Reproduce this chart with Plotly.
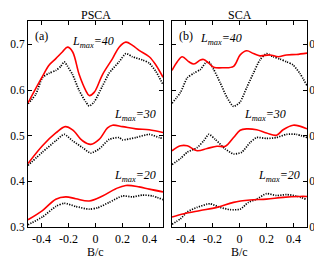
import plotly.graph_objects as go

# ---------------- data ----------------
# Panel (a) PSCA
a40_red_x = [-0.5, -0.393, -0.343, -0.294, -0.244, -0.207, -0.17, -0.121, -0.072, -0.047, -0.01, 0.052, 0.126, 0.175, 0.225, 0.274, 0.323, 0.398, 0.447, 0.5]
a40_red_y = [0.572, 0.630, 0.655, 0.669, 0.684, 0.694, 0.684, 0.634, 0.599, 0.588, 0.595, 0.634, 0.669, 0.694, 0.705, 0.698, 0.687, 0.673, 0.655, 0.628]
a40_blk_x = [-0.5, -0.442, -0.393, -0.343, -0.294, -0.257, -0.232, -0.207, -0.17, -0.121, -0.072, -0.047, -0.01, 0.052, 0.101, 0.175, 0.225, 0.274, 0.348, 0.398, 0.447, 0.5]
a40_blk_y = [0.570, 0.591, 0.627, 0.637, 0.643, 0.652, 0.662, 0.652, 0.634, 0.599, 0.574, 0.565, 0.574, 0.609, 0.637, 0.662, 0.680, 0.673, 0.666, 0.659, 0.641, 0.612]

a30_red_x = [-0.5, -0.393, -0.294, -0.224, -0.17, -0.096, -0.035, 0.027, 0.089, 0.126, 0.2, 0.299, 0.398, 0.5]
a30_red_y = [0.439, 0.478, 0.506, 0.520, 0.513, 0.489, 0.481, 0.492, 0.517, 0.523, 0.520, 0.515, 0.513, 0.507]
a30_blk_x = [-0.5, -0.393, -0.294, -0.232, -0.17, -0.096, -0.035, 0.027, 0.101, 0.175, 0.2, 0.299, 0.398, 0.472, 0.5]
a30_blk_y = [0.435, 0.464, 0.489, 0.503, 0.489, 0.474, 0.462, 0.471, 0.492, 0.496, 0.491, 0.496, 0.503, 0.496, 0.494]

a20_red_x = [-0.5, -0.393, -0.294, -0.22, -0.146, -0.047, 0.052, 0.151, 0.225, 0.323, 0.398, 0.5]
a20_red_y = [0.316, 0.336, 0.361, 0.366, 0.362, 0.357, 0.368, 0.384, 0.391, 0.388, 0.383, 0.377]
a20_blk_x = [-0.5, -0.393, -0.294, -0.232, -0.146, -0.047, 0.015, 0.101, 0.2, 0.274, 0.348, 0.422, 0.5]
a20_blk_y = [0.305, 0.322, 0.345, 0.352, 0.345, 0.339, 0.342, 0.354, 0.368, 0.366, 0.370, 0.368, 0.360]

# Panel (b) SCA
b40_red_x = [-0.5, -0.461, -0.424, -0.375, -0.338, -0.29, -0.265, -0.228, -0.191, -0.118, -0.044, 0.005, 0.054, 0.103, 0.151, 0.225, 0.287, 0.348, 0.421, 0.5]
b40_red_y = [0.643, 0.662, 0.673, 0.662, 0.657, 0.666, 0.667, 0.659, 0.650, 0.649, 0.652, 0.677, 0.686, 0.680, 0.675, 0.677, 0.673, 0.677, 0.678, 0.681]
b40_blk_x = [-0.5, -0.437, -0.387, -0.338, -0.29, -0.253, -0.228, -0.191, -0.143, -0.093, -0.044, 0.005, 0.054, 0.103, 0.151, 0.2, 0.25, 0.299, 0.348, 0.397, 0.446, 0.5]
b40_blk_y = [0.571, 0.595, 0.627, 0.637, 0.645, 0.659, 0.662, 0.645, 0.616, 0.584, 0.564, 0.574, 0.606, 0.637, 0.666, 0.680, 0.673, 0.668, 0.662, 0.655, 0.637, 0.610]

b30_red_x = [-0.5, -0.437, -0.387, -0.314, -0.24, -0.167, -0.105, -0.044, 0.005, 0.054, 0.127, 0.2, 0.274, 0.323, 0.397, 0.446, 0.5]
b30_red_y = [0.467, 0.478, 0.478, 0.467, 0.472, 0.477, 0.477, 0.496, 0.512, 0.515, 0.513, 0.506, 0.501, 0.513, 0.523, 0.521, 0.515]
b30_blk_x = [-0.5, -0.437, -0.387, -0.314, -0.265, -0.228, -0.179, -0.106, -0.044, 0.017, 0.078, 0.127, 0.2, 0.274, 0.348, 0.421, 0.5]
b30_blk_y = [0.437, 0.450, 0.464, 0.474, 0.489, 0.503, 0.492, 0.471, 0.460, 0.464, 0.485, 0.496, 0.494, 0.496, 0.503, 0.503, 0.496]

b20_red_x = [-0.5, -0.412, -0.29, -0.167, -0.044, 0.078, 0.2, 0.323, 0.446, 0.5]
b20_red_y = [0.322, 0.329, 0.336, 0.343, 0.354, 0.359, 0.361, 0.365, 0.367, 0.367]
b20_blk_x = [-0.5, -0.437, -0.387, -0.314, -0.24, -0.216, -0.143, -0.069, 0.005, 0.066, 0.127, 0.2, 0.274, 0.348, 0.421, 0.5]
b20_blk_y = [0.306, 0.318, 0.333, 0.343, 0.350, 0.351, 0.343, 0.338, 0.339, 0.354, 0.361, 0.373, 0.369, 0.371, 0.368, 0.360]

panel_titles = ["PSCA", "SCA"]
panel_tags = ["(a)", "(b)"]
lmax_labels = ["40", "30", "20"]
x_ticks = [-0.4, -0.2, 0, 0.2, 0.4]
x_ticklabels = ["-0.4", "-0.2", "0", "0.2", "0.4"]
y_ticks = [0.3, 0.4, 0.5, 0.6, 0.7]
y_ticklabels = ["0.3", "0.4", "0.5", "0.6", "0.7"]

# ---------------- figure ----------------
RED = "#ff0000"
FONT = "Liberation Serif"
fig = go.Figure()

def add_pair(xr, yr, xb, yb, xa, ya):
    fig.add_trace(go.Scatter(x=xb, y=yb, mode="lines", xaxis=xa, yaxis=ya,
                             line=dict(color="black", width=1.7, dash="1.2px,1.3px", shape="spline", smoothing=0.6),
                             showlegend=False, hoverinfo="skip"))
    fig.add_trace(go.Scatter(x=xr, y=yr, mode="lines", xaxis=xa, yaxis=ya,
                             line=dict(color=RED, width=1.6, shape="spline", smoothing=1.0),
                             showlegend=False, hoverinfo="skip"))

add_pair(a40_red_x, a40_red_y, a40_blk_x, a40_blk_y, "x", "y")
add_pair(a30_red_x, a30_red_y, a30_blk_x, a30_blk_y, "x", "y")
add_pair(a20_red_x, a20_red_y, a20_blk_x, a20_blk_y, "x", "y")
add_pair(b40_red_x, b40_red_y, b40_blk_x, b40_blk_y, "x2", "y2")
add_pair(b30_red_x, b30_red_y, b30_blk_x, b30_blk_y, "x2", "y2")
add_pair(b20_red_x, b20_red_y, b20_blk_x, b20_blk_y, "x2", "y2")

W, H = 322, 256
ydom = [1 - 224.5 / H, 1 - 13 / H]
xdom1 = [20 / W, 155 / W]
xdom2 = [164 / W, 299 / W]

axis_common = dict(showline=True, linecolor="black", linewidth=1, mirror="ticks",
                   ticks="inside", ticklen=4, tickcolor="black", showgrid=False,
                   zeroline=False)
xfont = dict(family=FONT, size=12, color="black")
yfont = dict(family=FONT, size=11.5, color="black")

fig.update_layout(
    width=W, height=H, margin=dict(l=0, r=0, t=0, b=0),
    paper_bgcolor="white", plot_bgcolor="white",
    font=dict(family=FONT, size=12, color="black"),
    xaxis=dict(domain=xdom1, range=[-0.5, 0.5], tickvals=x_ticks, ticktext=x_ticklabels,
               anchor="y", tickfont=xfont, **axis_common),
    yaxis=dict(domain=ydom, range=[0.2995, 0.752], tickvals=y_ticks, ticktext=y_ticklabels,
               anchor="x", tickfont=yfont, **axis_common),
    xaxis2=dict(domain=xdom2, range=[-0.5, 0.5], tickvals=x_ticks, ticktext=x_ticklabels,
                anchor="y2", tickfont=xfont, **axis_common),
    yaxis2=dict(domain=ydom, range=[0.2995, 0.752], tickvals=y_ticks, ticktext=y_ticklabels,
                anchor="x2", side="right", tickfont=yfont, ticklabelstandoff=-1, **axis_common),
)

ann = []
for t, dom in zip(panel_titles, [xdom1, xdom2]):
    ann.append(dict(text=t, xref="paper", yref="paper", x=(dom[0] + dom[1]) / 2, y=1 - 7 / H,
                    showarrow=False, font=dict(family=FONT, size=12), xanchor="center", yanchor="middle"))
    ann.append(dict(text="B/c", xref="paper", yref="paper", x=(dom[0] + dom[1]) / 2, y=1 - 250 / H,
                    showarrow=False, font=dict(family=FONT, size=12), xanchor="center", yanchor="middle"))
ann.append(dict(text=panel_tags[0], xref="x", yref="y", x=-0.40, y=0.718, showarrow=False,
                font=dict(family=FONT, size=12)))
ann.append(dict(text=panel_tags[1], xref="x2", yref="y2", x=-0.40, y=0.718, showarrow=False,
                font=dict(family=FONT, size=12)))
lab_pos_a = [(-0.015, 0.705), (0.296, 0.545), (0.296, 0.411)]
lab_pos_b = [(-0.137, 0.711), (0.186, 0.545), (0.296, 0.411)]
for lab, (x, y) in zip(lmax_labels, lab_pos_a):
    ann.append(dict(text="<i>L<sub>max</sub>=" + lab + "</i>", xref="x", yref="y", x=x, y=y,
                    showarrow=False, font=dict(family=FONT, size=12)))
for lab, (x, y) in zip(lmax_labels, lab_pos_b):
    ann.append(dict(text="<i>L<sub>max</sub>=" + lab + "</i>", xref="x2", yref="y2", x=x, y=y,
                    showarrow=False, font=dict(family=FONT, size=12)))
fig.update_layout(annotations=ann)

fig.write_html("out.html")
